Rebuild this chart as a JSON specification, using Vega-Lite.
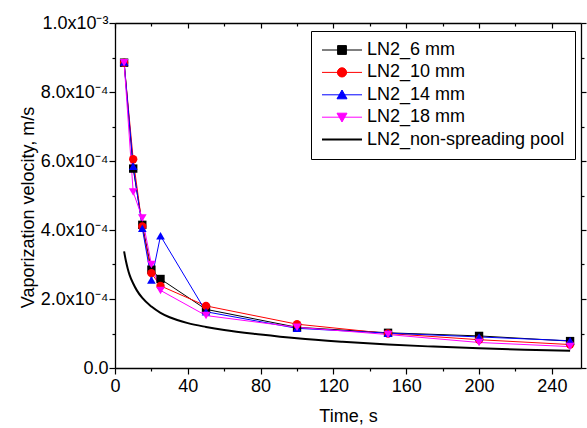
{
  "$schema": "https://vega.github.io/schema/vega-lite/v6.json",
  "width": 466,
  "height": 345,
  "autosize": "none",
  "padding": {"left": 115, "top": 23, "right": 6, "bottom": 60},
  "config": {
    "view": {"stroke": null},
    "font": "Liberation Sans",
    "axis": {
      "grid": false,
      "domainColor": "black",
      "domainWidth": 1.3,
      "tickColor": "black",
      "tickWidth": 1.2,
      "labelFont": "Liberation Sans",
      "labelFontSize": 18,
      "labelColor": "black",
      "titleFont": "Liberation Sans",
      "titleFontSize": 18,
      "titleFontWeight": "normal",
      "titleColor": "black",
      "labelFlush": false,
      "labelOverlap": false
    }
  },
  "datasets": {
    "exp": [
      {"series": "LN2_6 mm", "t": 5, "v": 0.000885},
      {"series": "LN2_6 mm", "t": 10, "v": 0.000578},
      {"series": "LN2_6 mm", "t": 15, "v": 0.000415},
      {"series": "LN2_6 mm", "t": 20, "v": 0.000285},
      {"series": "LN2_6 mm", "t": 25, "v": 0.000258},
      {"series": "LN2_6 mm", "t": 50, "v": 0.000170},
      {"series": "LN2_6 mm", "t": 100, "v": 0.000118},
      {"series": "LN2_6 mm", "t": 150, "v": 0.000102},
      {"series": "LN2_6 mm", "t": 200, "v": 0.000093},
      {"series": "LN2_6 mm", "t": 250, "v": 0.000078},
      {"series": "LN2_10 mm", "t": 5, "v": 0.000885},
      {"series": "LN2_10 mm", "t": 10, "v": 0.000605},
      {"series": "LN2_10 mm", "t": 15, "v": 0.000410},
      {"series": "LN2_10 mm", "t": 20, "v": 0.000275},
      {"series": "LN2_10 mm", "t": 25, "v": 0.000238},
      {"series": "LN2_10 mm", "t": 50, "v": 0.000180},
      {"series": "LN2_10 mm", "t": 100, "v": 0.000127},
      {"series": "LN2_10 mm", "t": 150, "v": 0.000100},
      {"series": "LN2_10 mm", "t": 200, "v": 0.000082},
      {"series": "LN2_10 mm", "t": 250, "v": 0.000068},
      {"series": "LN2_14 mm", "t": 5, "v": 0.000887},
      {"series": "LN2_14 mm", "t": 10, "v": 0.000585},
      {"series": "LN2_14 mm", "t": 15, "v": 0.000405},
      {"series": "LN2_14 mm", "t": 20, "v": 0.000255},
      {"series": "LN2_14 mm", "t": 25, "v": 0.000383},
      {"series": "LN2_14 mm", "t": 50, "v": 0.000163},
      {"series": "LN2_14 mm", "t": 100, "v": 0.000115},
      {"series": "LN2_14 mm", "t": 150, "v": 0.000101},
      {"series": "LN2_14 mm", "t": 200, "v": 0.000090},
      {"series": "LN2_14 mm", "t": 250, "v": 0.000079},
      {"series": "LN2_18 mm", "t": 5, "v": 0.000885},
      {"series": "LN2_18 mm", "t": 10, "v": 0.000510},
      {"series": "LN2_18 mm", "t": 15, "v": 0.000435},
      {"series": "LN2_18 mm", "t": 20, "v": 0.000300},
      {"series": "LN2_18 mm", "t": 25, "v": 0.000225},
      {"series": "LN2_18 mm", "t": 50, "v": 0.000152},
      {"series": "LN2_18 mm", "t": 100, "v": 0.000118},
      {"series": "LN2_18 mm", "t": 150, "v": 0.000097},
      {"series": "LN2_18 mm", "t": 200, "v": 0.000074},
      {"series": "LN2_18 mm", "t": 250, "v": 0.000062}
    ],
    "pool": [
      {"series": "LN2_non-spreading pool", "t": 5, "v": 0.000338},
      {"series": "LN2_non-spreading pool", "t": 6, "v": 0.000310},
      {"series": "LN2_non-spreading pool", "t": 7, "v": 0.000288},
      {"series": "LN2_non-spreading pool", "t": 8, "v": 0.000270},
      {"series": "LN2_non-spreading pool", "t": 10, "v": 0.000245},
      {"series": "LN2_non-spreading pool", "t": 12, "v": 0.000225},
      {"series": "LN2_non-spreading pool", "t": 15, "v": 0.000203},
      {"series": "LN2_non-spreading pool", "t": 20, "v": 0.000178},
      {"series": "LN2_non-spreading pool", "t": 25, "v": 0.000160},
      {"series": "LN2_non-spreading pool", "t": 30, "v": 0.000147},
      {"series": "LN2_non-spreading pool", "t": 40, "v": 0.000130},
      {"series": "LN2_non-spreading pool", "t": 50, "v": 0.000119},
      {"series": "LN2_non-spreading pool", "t": 60, "v": 0.000110},
      {"series": "LN2_non-spreading pool", "t": 80, "v": 0.000097},
      {"series": "LN2_non-spreading pool", "t": 100, "v": 0.000086},
      {"series": "LN2_non-spreading pool", "t": 125, "v": 0.000076},
      {"series": "LN2_non-spreading pool", "t": 150, "v": 0.000068},
      {"series": "LN2_non-spreading pool", "t": 175, "v": 0.000062},
      {"series": "LN2_non-spreading pool", "t": 200, "v": 0.000057},
      {"series": "LN2_non-spreading pool", "t": 225, "v": 0.000053},
      {"series": "LN2_non-spreading pool", "t": 250, "v": 0.000050}
    ]
  },
  "layer": [
    {
      "data": {"name": "exp"},
      "mark": {"type": "line", "strokeWidth": 1},
      "encoding": {
        "x": {
          "field": "t", "type": "quantitative",
          "scale": {"domain": [0, 256], "nice": false, "zero": false},
          "axis": {
            "orient": "bottom",
            "values": [0, 20, 40, 60, 80, 100, 120, 140, 160, 180, 200, 220, 240],
            "labelExpr": "datum.value % 40 === 0 ? format(datum.value, 'd') : ''",
            "tickSize": {"condition": {"test": "datum.value % 40 === 0", "value": 6}, "value": 3},
            "labelPadding": 3,
            "title": "Time, s",
            "titlePadding": 12
          }
        },
        "y": {
          "field": "v", "type": "quantitative",
          "scale": {"domain": [0, 0.001], "nice": false},
          "axis": {
            "orient": "left",
            "values": [0, 0.0001, 0.0002, 0.0003, 0.0004, 0.0005, 0.0006, 0.0007, 0.0008, 0.0009, 0.001],
            "labelExpr": "datum.value < 1e-9 ? '0.0' : (round(datum.value * 10000) % 2 !== 0 ? '' : (datum.value > 0.00099 ? '1.0x10⁻³' : format(datum.value * 10000, '.1f') + 'x10⁻⁴'))",
            "tickSize": {"condition": {"test": "round(datum.value * 10000) % 2 === 0", "value": 6}, "value": 3},
            "labelPadding": 1,
            "title": "Vaporization velocity, m/s",
            "titlePadding": 3,
            "titleY": 184
          }
        },
        "color": {
          "field": "series", "type": "nominal",
          "scale": {
            "domain": ["LN2_6 mm", "LN2_10 mm", "LN2_14 mm", "LN2_18 mm", "LN2_non-spreading pool"],
            "range": ["#000000", "#ff0000", "#0000ff", "#ff00ff", "#000000"]
          },
          "legend": {
            "orient": "none",
            "legendX": 196,
            "legendY": 8,
            "title": null,
            "strokeColor": "black",
            "fillColor": "white",
            "padding": 10,
            "labelFont": "Liberation Sans",
            "labelFontSize": 18,
            "labelColor": "black",
            "labelLimit": 0,
            "symbolSize": 64,
            "symbolOffset": 12,
            "labelOffset": 16,
            "rowPadding": 4.4,
            "encode": {
              "symbols": {
                "update": {
                  "shape": {"signal": "datum.value === 'LN2_6 mm' ? 'M-5,0H5M-1.1,-1.1H1.1V1.1H-1.1Z' : datum.value === 'LN2_10 mm' ? 'M-5,0H5M1.15,0A1.15,1.15,0,1,1,-1.15,0A1.15,1.15,0,1,1,1.15,0Z' : datum.value === 'LN2_14 mm' ? 'M-5,0H5M0,-1.2L1.25,1L-1.25,1Z' : datum.value === 'LN2_18 mm' ? 'M-5,0H5M0,1.2L1.25,-1L-1.25,-1Z' : 'M-5,0H5'"},
                  "fill": {"signal": "scale('color', datum.value)"},
                  "stroke": {"signal": "scale('color', datum.value)"},
                  "strokeWidth": {"signal": "datum.value === 'LN2_non-spreading pool' ? 2 : 1"},
                  "size": {"value": 64},
                  "opacity": {"value": 1},
                  "fillOpacity": {"value": 1},
                  "strokeOpacity": {"value": 1}
                }
              }
            }
          }
        }
      }
    },
    {
      "data": {"name": "exp"},
      "transform": [{"filter": "datum.series === 'LN2_6 mm'"}],
      "mark": {"type": "point", "shape": "square", "filled": true, "opacity": 1, "size": 70},
      "encoding": {
        "x": {"field": "t", "type": "quantitative", "axis": null},
        "y": {"field": "v", "type": "quantitative", "axis": null},
        "color": {"field": "series", "type": "nominal"}
      }
    },
    {
      "data": {"name": "exp"},
      "transform": [{"filter": "datum.series === 'LN2_10 mm'"}],
      "mark": {"type": "point", "shape": "circle", "filled": true, "opacity": 1, "size": 70},
      "encoding": {
        "x": {"field": "t", "type": "quantitative", "axis": null},
        "y": {"field": "v", "type": "quantitative", "axis": null},
        "color": {"field": "series", "type": "nominal"}
      }
    },
    {
      "data": {"name": "exp"},
      "transform": [{"filter": "datum.series === 'LN2_14 mm'"}],
      "mark": {"type": "point", "shape": "triangle-up", "filled": true, "opacity": 1, "size": 75},
      "encoding": {
        "x": {"field": "t", "type": "quantitative", "axis": null},
        "y": {"field": "v", "type": "quantitative", "axis": null},
        "color": {"field": "series", "type": "nominal"}
      }
    },
    {
      "data": {"name": "exp"},
      "transform": [{"filter": "datum.series === 'LN2_18 mm'"}],
      "mark": {"type": "point", "shape": "triangle-down", "filled": true, "opacity": 1, "size": 75},
      "encoding": {
        "x": {"field": "t", "type": "quantitative", "axis": null},
        "y": {"field": "v", "type": "quantitative", "axis": null},
        "color": {"field": "series", "type": "nominal"}
      }
    },
    {
      "data": {"name": "pool"},
      "mark": {"type": "line", "strokeWidth": 2, "interpolate": "monotone"},
      "encoding": {
        "x": {
          "field": "t", "type": "quantitative",
          "axis": {
            "orient": "top",
            "values": [0, 20, 40, 60, 80, 100, 120, 140, 160, 180, 200, 220, 240],
            "labels": false,
            "tickSize": {"condition": {"test": "datum.value % 40 === 0", "value": -5}, "value": -3},
            "title": null
          }
        },
        "y": {
          "field": "v", "type": "quantitative",
          "axis": {
            "orient": "right",
            "values": [0, 0.0001, 0.0002, 0.0003, 0.0004, 0.0005, 0.0006, 0.0007, 0.0008, 0.0009, 0.001],
            "labels": false,
            "tickSize": {"condition": {"test": "round(datum.value * 10000) % 2 === 0", "value": 5}, "value": 3},
            "title": null
          }
        },
        "color": {"field": "series", "type": "nominal"}
      }
    }
  ],
  "resolve": {"axis": {"x": "independent", "y": "independent"}}
}
